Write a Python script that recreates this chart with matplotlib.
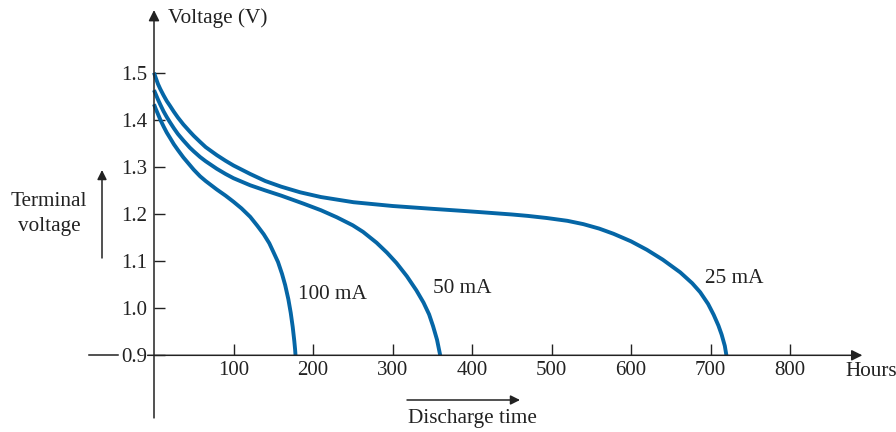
import matplotlib
matplotlib.use("Agg")
from matplotlib import pyplot as plt

plt.rcParams['font.family'] = ['Liberation Serif', 'DejaVu Serif']

# discharge curves (hours, volts)
t_100 = [0, 2, 5, 8, 12, 16, 20, 25, 30, 37, 45, 50, 58, 65, 72, 79, 90, 100, 110, 121,
         130, 138, 145, 150, 156, 161, 165, 169, 172, 174.5, 176.5, 177.5, 178]
v_100 = [1.433, 1.424, 1.412, 1.400, 1.386, 1.373, 1.362, 1.348, 1.336, 1.320, 1.304, 1.294,
         1.280, 1.270, 1.261, 1.252, 1.239, 1.226, 1.212, 1.194, 1.175, 1.157, 1.138, 1.120,
         1.098, 1.073, 1.049, 1.019, 0.990, 0.960, 0.930, 0.912, 0.9]

t_50 = [0, 2, 5, 8, 12, 16, 20, 25, 30, 37, 45, 50, 58, 65, 79, 90, 100, 121, 140, 160,
        188, 210, 230, 250, 263, 280, 293, 305, 318, 330, 339, 346, 351, 356, 360]
v_50 = [1.463, 1.455, 1.443, 1.432, 1.418, 1.406, 1.395, 1.382, 1.370, 1.356, 1.341, 1.333,
        1.321, 1.312, 1.296, 1.285, 1.276, 1.261, 1.250, 1.239, 1.222, 1.208, 1.193, 1.176,
        1.162, 1.139, 1.118, 1.096, 1.068, 1.038, 1.012, 0.987, 0.962, 0.933, 0.9]

t_25 = [0, 2, 5, 8, 12, 16, 20, 25, 30, 37, 45, 50, 58, 65, 79, 90, 100, 121, 140, 160,
        184, 210, 251, 300, 350, 385, 410, 450, 470, 494, 520, 540, 560, 578, 600, 620, 640,
        662, 677, 687, 697, 704, 710, 714, 718, 720]
v_25 = [1.500, 1.490, 1.476, 1.465, 1.452, 1.440, 1.430, 1.417, 1.405, 1.390, 1.375, 1.366,
        1.353, 1.342, 1.325, 1.313, 1.303, 1.285, 1.270, 1.258, 1.246, 1.236, 1.225, 1.217,
        1.211, 1.207, 1.204, 1.199, 1.196, 1.1915, 1.1855, 1.1785, 1.169, 1.158, 1.142, 1.124,
        1.103, 1.076, 1.053, 1.034, 1.009, 0.986, 0.963, 0.944, 0.920, 0.9]

curve_labels = ['100 mA', '50 mA', '25 mA']
label_pos = [(181, 1.030), (351, 1.041), (693, 1.063)]

xticks = [100, 200, 300, 400, 500, 600, 700, 800]
yticks = [0.9, 1.0, 1.1, 1.2, 1.3, 1.4, 1.5]

blue = '#0566a6'
ink = '#222222'
fs = 15.3
W, H = 896, 432

fig = plt.figure(figsize=(8.96, 4.32), dpi=100)
ax = fig.add_axes([154 / W, 1 - 355.3 / H, 636 / W, 282.6 / H])
ax.set_xlim(0, 800)
ax.set_ylim(0.9, 1.5)
for s in ax.spines.values():
    s.set_visible(False)

ax.set_xticks(xticks)
ax.set_yticks(yticks)
ax.set_yticklabels(['%.1f' % v for v in yticks])
ax.tick_params(direction='in', length=8, width=1, labelsize=15, color=ink, labelcolor=ink)
ax.tick_params(axis='y', pad=5)
ax.tick_params(axis='x', pad=4)

# axis lines with arrows
ax.plot([-82, -45], [0.9, 0.9], color=ink, lw=1.1, clip_on=False)
ax.annotate('', xy=(891, 0.9), xytext=(-8, 0.9), annotation_clip=False,
            arrowprops=dict(arrowstyle='-|>', color=ink, lw=1.1,
                            mutation_scale=16, shrinkA=0, shrinkB=0))
ax.annotate('', xy=(0, 1.633), xytext=(0, 0.767), annotation_clip=False,
            arrowprops=dict(arrowstyle='-|>', color=ink, lw=1.1,
                            mutation_scale=16, shrinkA=0, shrinkB=0))

for t, v in [(t_100, v_100), (t_50, v_50), (t_25, v_25)]:
    ax.plot(t, v, color=blue, lw=2.8, solid_capstyle='butt', solid_joinstyle='round',
            clip_on=False)

for lab, (x, y) in zip(curve_labels, label_pos):
    ax.text(x, y, lab, fontsize=fs, color=ink, ha='left', va='center')

# outer labels
fig.text(168 / W, 1 - 18 / H, 'Voltage (V)', fontsize=fs, color=ink, ha='left', va='center')
fig.text(845 / W, 1 - 372 / H, 'Hours', fontsize=fs, color=ink, ha='left', va='center')
fig.text(49 / W, 1 - 214 / H, 'Terminal\nvoltage', fontsize=fs, color=ink,
         ha='center', va='center', linespacing=1.5)
fig.text(472 / W, 1 - 418 / H, 'Discharge time', fontsize=fs, color=ink,
         ha='center', va='center')

fig.add_artist(matplotlib.patches.FancyArrowPatch((102 / W, 1 - 258 / H), (102 / W, 1 - 170 / H),
               transform=fig.transFigure, arrowstyle='-|>', mutation_scale=14,
               color=ink, lw=1.1, shrinkA=0, shrinkB=0))
fig.add_artist(matplotlib.patches.FancyArrowPatch((407 / W, 1 - 400 / H), (520 / W, 1 - 400 / H),
               transform=fig.transFigure, arrowstyle='-|>', mutation_scale=14,
               color=ink, lw=1.1, shrinkA=0, shrinkB=0))

fig.savefig('out.png', dpi=100)
